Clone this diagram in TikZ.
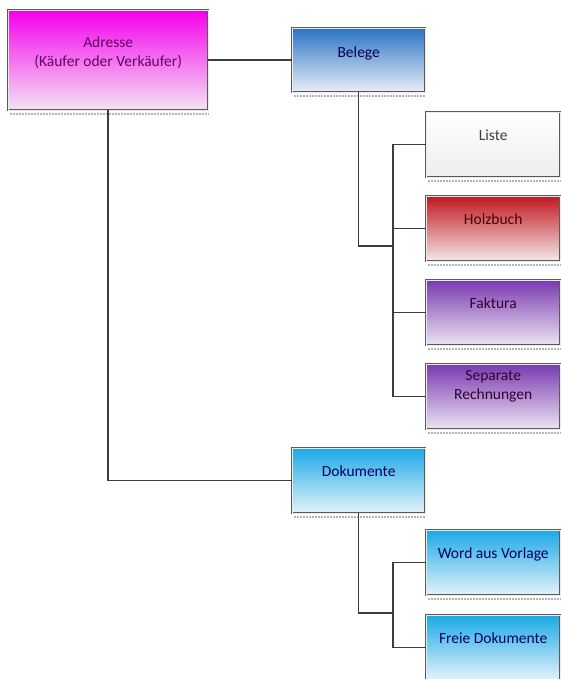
\documentclass[tikz,border=0pt]{standalone}
\usepackage{fontspec}
\setmainfont{Carlito}
\usetikzlibrary{positioning}

\definecolor{linegray}{HTML}{3C3C3C}
\definecolor{boxline}{HTML}{5A5A5A}
\definecolor{shadegray}{HTML}{B4B4B4}
\definecolor{magentatop}{HTML}{F400EC}
\definecolor{magentabot}{HTML}{F4E4F4}
\definecolor{bluetop}{HTML}{2B74C4}
\definecolor{bluebot}{HTML}{E8EEF6}
\definecolor{redtop}{HTML}{C01820}
\definecolor{redbot}{HTML}{F4E8E8}
\definecolor{purpletop}{HTML}{7A3AB0}
\definecolor{purplebot}{HTML}{ECE4F2}
\definecolor{cyantop}{HTML}{1BA9E6}
\definecolor{cyanbot}{HTML}{E4F3FA}

\tikzset{
  box/.style={draw=boxline, double=white!92!black, double distance=1.3pt,
    anchor=north west, inner sep=0pt, align=center,
    minimum width=134pt, minimum height=65pt, text height=28pt, text depth=37pt,
    font=\fontsize{15.5}{19}\selectfont},
  magentabox/.style={box, top color=magentatop, bottom color=magentabot, text=violet!80!black},
  bluebox/.style={box, top color=bluetop, bottom color=bluebot, text=blue!35!black},
  whitebox/.style={box, top color=white, bottom color=black!7, text=black!75},
  redbox/.style={box, top color=redtop, bottom color=redbot, text=red!30!black},
  purplebox/.style={box, top color=purpletop, bottom color=purplebot, text=violet!40!black},
  cyanbox/.style={box, top color=cyantop, bottom color=cyanbot, text=blue!40!black},
  link/.style={draw=linegray, line width=1.5pt},
  shadowline/.style={draw=shadegray, line width=2pt, dash pattern=on 2pt off 1pt}
}

\begin{document}
\begin{tikzpicture}[x=1pt, y=-1pt]
  % Picture frame
  \useasboundingbox (0,0) rectangle (560,679);

  % Top box
  \node[magentabox, minimum width=200pt, minimum height=100pt, text height=56pt, text depth=44pt]
    (adresse) at (8,10) {Adresse\\(Käufer oder Verkäufer)};

  % Second level
  \node[bluebox, minimum width=133pt, minimum height=64pt, text height=29pt, text depth=35pt]
    (belege) at (292,28) {Belege};
  \node[cyanbox, minimum width=133pt] (dokumente) at (292,448) {Dokumente};

  % Children of Belege
  \node[whitebox] (liste) at (426,112) {Liste};
  \node[redbox] (holzbuch) at (426,196) {Holzbuch};
  \node[purplebox] (faktura) at (426,280) {Faktura};
  \node[purplebox, text height=35pt, text depth=30pt] (separate) at (426,364) {Separate\\Rechnungen};

  % Children of Dokumente
  \node[cyanbox] (vorlage) at (426,530) {Word aus Vorlage};
  \node[cyanbox] (freie) at (426,615) {Freie Dokumente};

  % Shadows under the boxes
  \foreach \n in {adresse,belege,dokumente,liste,holzbuch,faktura,separate,vorlage,freie}
    \draw[shadowline] ([xshift=2pt,yshift=-3.5pt]\n.south west) -- ([yshift=-3.5pt]\n.south east);

  % Connectors
  \coordinate (belegebus) at (393,246);
  \coordinate (dokbus) at (393,613);
  \draw[link] (adresse.east) -- (belege.west);
  \draw[link] (adresse.south) |- (dokumente.west);
  \draw[link] (belege.south) |- (belegebus);
  \foreach \n in {liste,holzbuch,faktura,separate}
    \draw[link] (\n.west) -| (belegebus);
  \draw[link] (dokumente.south) |- (dokbus);
  \foreach \n in {vorlage,freie}
    \draw[link] (\n.west) -| (dokbus);
\end{tikzpicture}
\end{document}
